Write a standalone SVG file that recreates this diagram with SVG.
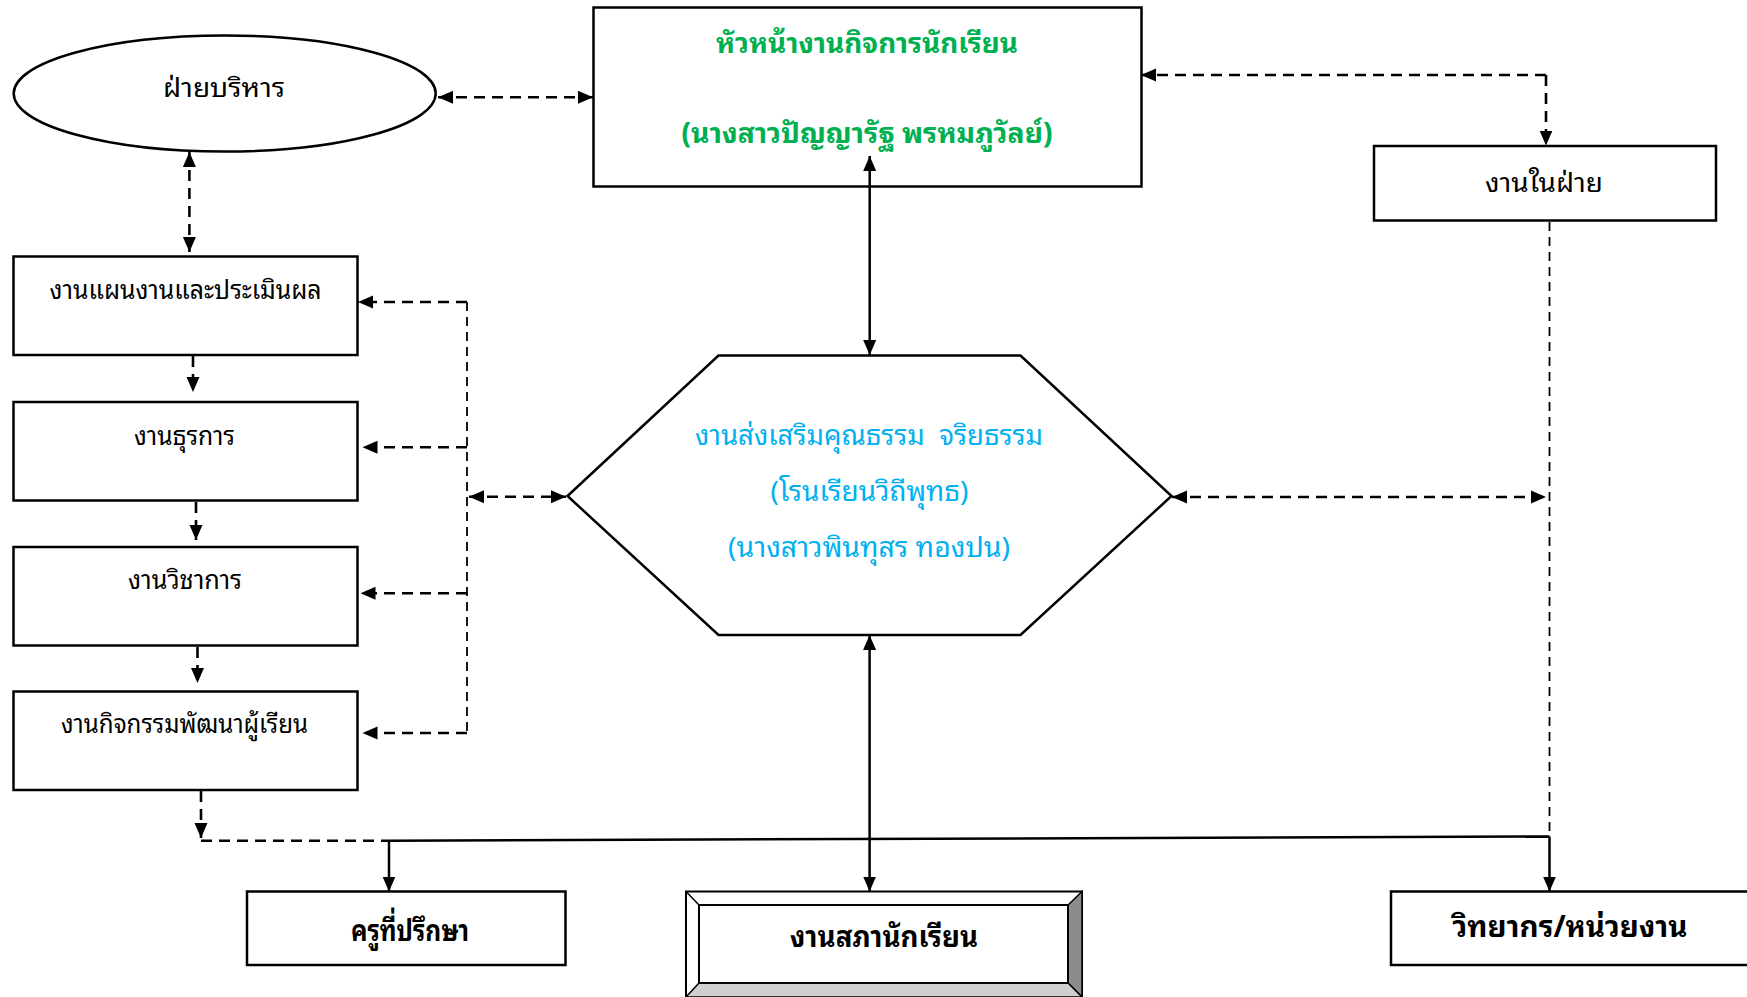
<svg xmlns="http://www.w3.org/2000/svg" width="1747" height="997" viewBox="0 0 1747 997">
<style>
.n{fill:#fff;stroke:#000;stroke-width:2.5}
.t{font-family:"Noto Sans Thai Looped","Tlwg Typist","Garuda","Loma","Sawasdee","Noto Sans Thai",sans-serif;font-size:26px;fill:#000;text-anchor:middle}
.b{font-weight:bold;font-size:30px}
.g{fill:#00B050;font-weight:bold;font-size:28px}
.c{fill:#00B0F0;font-size:28px}
.dk{fill:none;stroke:#000;stroke-width:2.6;stroke-dasharray:11 7}
.dn{fill:none;stroke:#000;stroke-width:1.8;stroke-dasharray:9 6}
.s{fill:none;stroke:#000;stroke-width:2.5}
</style>
<defs>
<marker id="ah" markerUnits="userSpaceOnUse" markerWidth="16" markerHeight="14" refX="15" refY="7" orient="auto-start-reverse" viewBox="0 0 16 14">
<path d="M0,0.5 L15,7 L0,13.5 z" fill="#000"/>
</marker>
</defs>
<rect width="1747" height="997" fill="#fff"/>
<g id="n-admin">
<ellipse class="n" cx="224.7" cy="93.5" rx="211" ry="58"/>
<text class="t" x="224" y="97" textLength="122" lengthAdjust="spacingAndGlyphs">ฝ่ายบริหาร</text>
</g>
<g id="n-head">
<rect class="n" x="593.5" y="7.5" width="548" height="179"/>
<text class="t g" x="867" y="53" textLength="302" lengthAdjust="spacingAndGlyphs">หัวหน้างานกิจการนักเรียน</text>
<text class="t g" x="867" y="143" textLength="371" lengthAdjust="spacingAndGlyphs">(นางสาวปัญญารัฐ พรหมภูวัลย์)</text>
</g>
<g id="n-inner">
<rect class="n" x="1374" y="146" width="342" height="74.5"/>
<text class="t" x="1544" y="192" textLength="118" lengthAdjust="spacingAndGlyphs">งานในฝ่าย</text>
</g>
<g id="n-plan">
<rect class="n" x="13.5" y="256.5" width="344" height="98.5"/>
<text class="t" x="185.6" y="299" textLength="272" lengthAdjust="spacingAndGlyphs">งานแผนงานและประเมินผล</text>
</g>
<g id="n-admin2">
<rect class="n" x="13.5" y="402" width="344" height="98.5"/>
<text class="t" x="184.5" y="445" textLength="101" lengthAdjust="spacingAndGlyphs">งานธุรการ</text>
</g>
<g id="n-academic">
<rect class="n" x="13.5" y="547" width="344" height="98.5"/>
<text class="t" x="185" y="589" textLength="114" lengthAdjust="spacingAndGlyphs">งานวิชาการ</text>
</g>
<g id="n-activity">
<rect class="n" x="13.5" y="691.5" width="344" height="98.5"/>
<text class="t" x="184.6" y="733" textLength="247" lengthAdjust="spacingAndGlyphs">งานกิจกรรมพัฒนาผู้เรียน</text>
</g>
<g id="n-moral">
<polygon class="n" points="567.5,496 718.5,355.5 1020.5,355.5 1171.5,496 1020.5,635 718.5,635"/>
<text class="t c" x="869" y="445" textLength="348" lengthAdjust="spacingAndGlyphs" xml:space="preserve">งานส่งเสริมคุณธรรม  จริยธรรม</text>
<text class="t c" x="869.5" y="501" textLength="198" lengthAdjust="spacingAndGlyphs">(โรนเรียนวิถีพุทธ)</text>
<text class="t c" x="869" y="557" textLength="282" lengthAdjust="spacingAndGlyphs">(นางสาวพินทุสร ทองปน)</text>
</g>
<g id="n-advisor">
<rect class="n" x="247" y="891.5" width="318.5" height="73.5"/>
<text class="t b" x="410" y="941" textLength="118" lengthAdjust="spacingAndGlyphs">ครูที่ปรึกษา</text>
</g>
<g id="n-council">
<rect x="686" y="891.5" width="396" height="106" fill="#fff" stroke="#000" stroke-width="2"/>
<polygon points="1082,891.5 1068,905 1068,983 1082,997" fill="#8c8c8c" stroke="#000" stroke-width="1.5"/>
<polygon points="686,997 699,983 1068,983 1082,997" fill="#cfcfcf" stroke="#000" stroke-width="1.5"/>
<line x1="686" y1="891.5" x2="699" y2="905" stroke="#000" stroke-width="1.5"/>
<rect x="699" y="905" width="369" height="78" fill="none" stroke="#000" stroke-width="2"/>
<text class="t b" x="884" y="947" textLength="188" lengthAdjust="spacingAndGlyphs">งานสภานักเรียน</text>
</g>
<g id="n-speaker">
<rect class="n" x="1391" y="891.5" width="370" height="73.5"/>
<text class="t b" x="1570" y="937" textLength="235" lengthAdjust="spacingAndGlyphs">วิทยากร/หน่วยงาน</text>
</g>
<g id="connectors">
<path class="dk" d="M438,97.3 H593" marker-start="url(#ah)" marker-end="url(#ah)"/>
<path class="dk" d="M1546,75 H1141" marker-end="url(#ah)"/>
<path class="dk" d="M1546,75 V145.5" marker-end="url(#ah)"/>
<path class="s" d="M869.7,156 V355" marker-start="url(#ah)" marker-end="url(#ah)"/>
<path class="dk" d="M189.4,152 V252" marker-start="url(#ah)" marker-end="url(#ah)"/>
<path class="dk" d="M193,356 V392" marker-end="url(#ah)"/>
<path class="dk" d="M196,502 V540" marker-end="url(#ah)"/>
<path class="dk" d="M197.5,647 V683" marker-end="url(#ah)"/>
<path class="dk" d="M201,791 V838" marker-end="url(#ah)"/>
<path class="dn" d="M467,302 V733"/>
<path class="dk" d="M467,302 H358" marker-end="url(#ah)"/>
<path class="dk" d="M467,447.3 H362.5" marker-end="url(#ah)"/>
<path class="dk" d="M467,593.3 H360.5" marker-end="url(#ah)"/>
<path class="dk" d="M467,733 H362.5" marker-end="url(#ah)"/>
<path class="dk" d="M469,496.7 H566" marker-start="url(#ah)" marker-end="url(#ah)"/>
<path class="dk" d="M1172,497 H1546" marker-start="url(#ah)" marker-end="url(#ah)"/>
<path class="dn" d="M1549.5,222 V836.5"/>
<path class="dk" d="M201,840.7 H389"/>
<path class="s" d="M389,840.7 L1549.5,836.5"/>
<path class="s" d="M389,840.7 V891.5" marker-end="url(#ah)"/>
<path class="s" d="M1549.5,836.5 V891.5" marker-end="url(#ah)"/>
<path class="s" d="M869.6,635 V891.5" marker-start="url(#ah)" marker-end="url(#ah)"/>
</g>
</svg>
